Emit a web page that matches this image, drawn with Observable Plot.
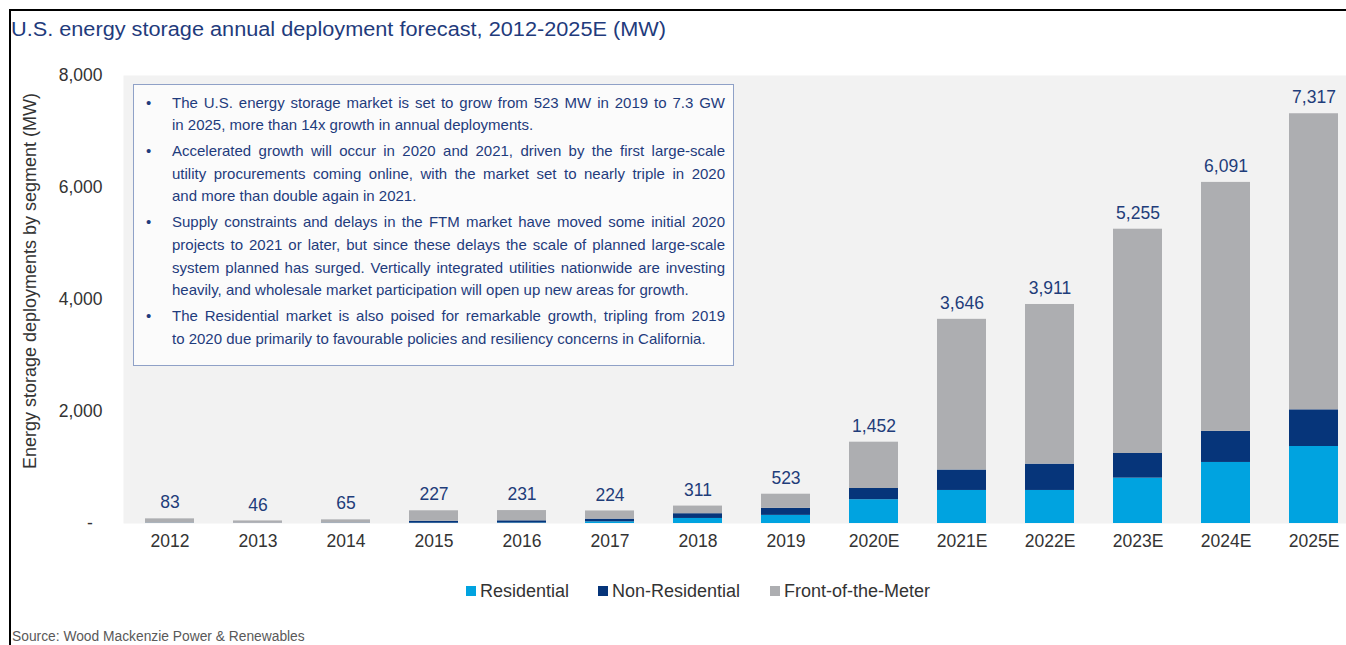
<!DOCTYPE html>
<html>
<head>
<meta charset="utf-8">
<script src="https://cdn.jsdelivr.net/npm/d3@7"></script>
<script src="https://cdn.jsdelivr.net/npm/@observablehq/plot@0.6"></script>
<style>
  html, body { margin: 0; padding: 0; background: #fff; overflow: hidden; }
  body { width: 1346px; height: 645px; position: relative; font-family: "Liberation Sans", Arial, sans-serif; }
  #frame { position: absolute; left: 9px; top: 9px; width: 1400px; height: 700px; border-left: 2px solid #000; border-top: 2px solid #000; }
  #title { position: absolute; left: 11px; top: 18px; font-size: 20px; color: #1f3b7c; white-space: nowrap; transform: scaleX(1.085); transform-origin: left center; }
  #chart { position: absolute; left: 0; top: 0; }
  #ylabel { position: absolute; left: 30px; top: 281px; transform: translate(-50%, -50%) rotate(-90deg); font-size: 18px; color: #333; white-space: nowrap; }
  #note { position: absolute; left: 133px; top: 84px; width: 601px; height: 282px; border: 1px solid #8fa1c7; background: #fbfbfb; box-sizing: border-box; color: #1f3c7d; font-size: 15px; }
  #note .p { position: relative; margin-left: 38px; width: 553px; margin-top: 3.5px; }
  #note .p:first-child { margin-top: 6.5px; }
  #note .p::before { content: "\2022"; position: absolute; left: -26px; top: 0; line-height: 22.6px; font-size: 15px; }
  #note .l { display: block; line-height: 22.6px; white-space: nowrap; text-align: justify; text-align-last: justify; }
  #note .l.last { text-align-last: left; }
  #legend { position: absolute; top: 581px; left: 0; font-size: 18px; color: #333; }
  #legend .it { position: absolute; top: 0; white-space: nowrap; display: flex; align-items: center; height: 20px; }
  #legend .sw { width: 10px; height: 10px; margin-right: 4px; display: inline-block; }
  #source { position: absolute; left: 12px; top: 629px; font-size: 13.8px; color: #595959; white-space: nowrap; }
</style>
</head>
<body>
<div id="frame"></div>
<div id="title">U.S. energy storage annual deployment forecast, 2012-2025E (MW)</div>
<div id="chart"></div>
<div id="ylabel">Energy storage deployments by segment (MW)</div>
<div id="note">
  <div class="p"><span class="l">The U.S. energy storage market is set to grow from 523 MW in 2019 to 7.3 GW</span><span class="l last">in 2025, more than 14x growth in annual deployments.</span></div>
  <div class="p"><span class="l">Accelerated growth will occur in 2020 and 2021, driven by the first large-scale</span><span class="l">utility procurements coming online, with the market set to nearly triple in 2020</span><span class="l last">and more than double again in 2021.</span></div>
  <div class="p"><span class="l">Supply constraints and delays in the FTM market have moved some initial 2020</span><span class="l">projects to 2021 or later, but since these delays the scale of planned large-scale</span><span class="l">system planned has surged. Vertically integrated utilities nationwide are investing</span><span class="l last">heavily, and wholesale market participation will open up new areas for growth.</span></div>
  <div class="p"><span class="l">The Residential market is also poised for remarkable growth, tripling from 2019</span><span class="l last">to 2020 due primarily to favourable policies and resiliency concerns in California.</span></div>
</div>
<div id="legend"></div>
<div id="source">Source: Wood Mackenzie Power &amp; Renewables</div>
<script>
const years = ["2012","2013","2014","2015","2016","2017","2018","2019","2020E","2021E","2022E","2023E","2024E","2025E"];
const residential =    [2, 1, 2,   5,   8,  30,  90, 145, 425,  590,  590,  810, 1090, 1375];
const nonResidential = [4, 3, 5,  35,  40,  48,  85, 125, 200,  365,  470,  440,  555,  655];
const frontOfMeter =   [77, 42, 58, 187, 183, 146, 136, 253, 827, 2691, 2851, 4005, 4446, 5287];
const totals = [83, 46, 65, 227, 231, 224, 311, 523, 1452, 3646, 3911, 5255, 6091, 7317];
const segments = ["Residential", "Non-Residential", "Front-of-the-Meter"];
const segmentColors = ["#00a3e0", "#06357a", "#adaeb1"];
const yTicks = [0, 2000, 4000, 6000, 8000];

const seriesValues = [residential, nonResidential, frontOfMeter];
const rows = [];
years.forEach((yr, i) => {
  segments.forEach((s, j) => rows.push({year: yr, segment: s, value: seriesValues[j][i]}));
});
const totalRows = years.map((yr, i) => ({year: yr, total: totals[i]}));
const fmt = d3.format(",");

const chart = Plot.plot({
  width: 1346,
  height: 560,
  marginTop: 75,
  marginBottom: 37,
  marginLeft: 123,
  marginRight: 0,
  style: {fontFamily: "'Liberation Sans', Arial, sans-serif", fontSize: "17.5px", color: "#333", background: "transparent", overflow: "visible"},
  x: {type: "band", domain: years, range: [123, 1359], paddingInner: 0.445, paddingOuter: 0.2225, tickSize: 0, tickPadding: 11, label: null},
  y: {domain: [0, 8000], range: [523, 75], ticks: yTicks, tickSize: 0, tickPadding: 21, label: null,
      tickFormat: d => d === 0 ? "-\u00a0\u00a0" : fmt(d)},
  color: {domain: segments, range: segmentColors},
  marks: [
    Plot.frame({fill: "#f2f2f2", stroke: null}),
    Plot.barY(rows, {x: "year", y: "value", fill: "segment"}),
    Plot.text(totalRows, {x: "year", y: "total", text: d => fmt(d.total), dy: -16, fill: "#1f3d7a", fontSize: 17.5})
  ]
});
document.getElementById("chart").appendChild(chart);

const legendPos = [466, 598, 770];
const legend = document.getElementById("legend");
segments.forEach((s, i) => {
  const it = document.createElement("div");
  it.className = "it";
  it.style.left = legendPos[i] + "px";
  it.innerHTML = `<span class="sw" style="background:${segmentColors[i]}"></span><span>${s}</span>`;
  legend.appendChild(it);
});
</script>
</body>
</html>
